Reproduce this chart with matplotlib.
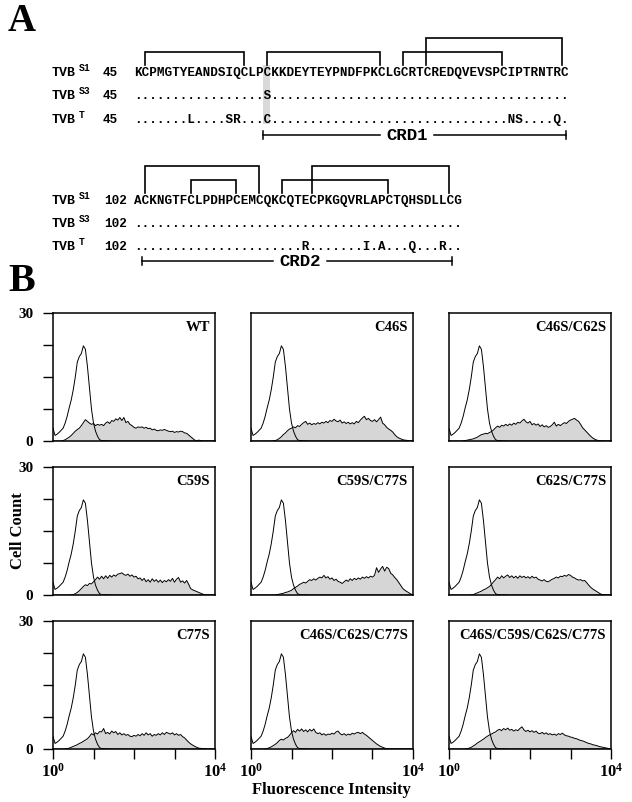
import numpy as np
import matplotlib
matplotlib.use("Agg")
import matplotlib.pyplot as plt
from matplotlib.patches import Rectangle

plt.rcParams['font.family'] = ['Liberation Serif', 'DejaVu Serif']
plt.rcParams['mathtext.fontset'] = 'custom'
plt.rcParams['mathtext.rm'] = 'Liberation Serif'
plt.rcParams['mathtext.bf'] = 'Liberation Serif:bold'

# ---------------- Panel A: alignment data ----------------
block1_start = 45
block1_s1 = "KCPMGTYEANDSIQCLPCKKDEYTEYPNDFPKCLGCRTCREDQVEVSPCIPTRNTRC"
block1_s3 = "." * 17 + "S" + "." * 39
block1_t = "." * 7 + "L" + "." * 4 + "SR" + "." * 3 + "C" + "." * 31 + "NS" + "." * 4 + "Q" + "."
block1_bonds = [(46, 59), (62, 77), (80, 93), (83, 101)]
block1_crd = (62, 101, "CRD1")
block1_highlight = 62

block2_start = 102
block2_s1 = "ACKNGTFCLPDHPCEMCQKCQTECPKGQVRLAPCTQHSDLLCG"
block2_s3 = "." * 43
block2_t = "." * 22 + "R" + "." * 7 + "I" + "." + "A" + "." * 3 + "Q" + "." * 3 + "R" + ".."
block2_bonds = [(103, 118), (109, 115), (121, 135), (125, 143)]
block2_crd = (103, 143, "CRD2")

row_names = ["S1", "S3", "T"]

# ---------------- Panel B: flow cytometry histograms ----------------
# channel positions in log10 units (0..4), 0.05 apart
channel_log = np.linspace(0, 4, 81)

control = [3.0, 1.3, 1.6, 2.0, 2.5, 3.0, 4.2, 5.8, 7.8, 9.6,
           12.0, 15.0, 18.5, 19.8, 20.5, 22.3, 21.5, 17.5, 12.5, 7.5,
           4.2, 2.3, 1.1, 0.3, 0.1, 0.1, 0.05, 0.05, 0.05, 0,
           0, 0, 0, 0, 0, 0, 0, 0, 0, 0,
           0, 0, 0, 0, 0, 0, 0, 0, 0, 0,
           0, 0, 0, 0, 0, 0, 0, 0, 0, 0,
           0, 0, 0, 0, 0, 0, 0, 0, 0, 0,
           0, 0, 0, 0, 0, 0, 0, 0, 0, 0,
           0]

wt = [0, 0, 0, 0, 0, 0.1, 0.3, 0.6, 0.9, 1.3,
      1.8, 2.3, 2.7, 3.0, 3.6, 4.3, 5.0, 4.6, 4.2, 3.9,
      4.1, 3.6, 3.9, 3.7, 3.9, 3.6, 4.2, 4.5, 4.1, 4.8,
      4.6, 5.2, 4.9, 5.5, 4.8, 5.5, 4.3, 4.6, 3.9, 3.6,
      3.2, 3.0, 3.3, 3.2, 3.3, 3.0, 3.2, 2.9, 3.0, 2.6,
      2.8, 2.5, 2.4, 2.6, 2.5, 2.7, 2.5, 2.3, 2.2, 2.3,
      2.0, 2.2, 2.1, 2.3, 2.2, 1.9, 1.8, 1.4, 1.0, 0.6,
      0.2, 0.05, 0.2, 0.1, 0, 0, 0, 0, 0, 0,
      0]

c46s = [0, 0, 0, 0, 0, 0, 0, 0, 0, 0,
        0, 0.05, 0.1, 0.3, 0.6, 1.0, 1.5, 1.9, 2.4, 2.8,
        3.0, 3.3, 3.1, 3.6, 3.4, 3.9, 4.3, 4.6, 3.9, 4.2,
        3.8, 4.1, 3.9, 4.3, 4.0, 4.4, 4.2, 4.6, 4.3, 4.8,
        4.6, 5.1, 4.7, 4.5, 4.9, 4.2, 4.5, 4.1, 4.4, 4.0,
        4.3, 4.0, 4.6, 4.3, 4.9, 5.4, 5.8, 5.0, 5.3, 4.8,
        4.6, 5.0, 4.5, 5.0, 5.6, 4.2, 3.8, 3.2, 2.8, 2.5,
        2.1, 1.5, 1.0, 0.7, 0.5, 0.3, 0.2, 0.15, 0.05, 0,
        0]

c46s_c62s = [0, 0, 0, 0, 0, 0, 0, 0.05, 0.1, 0.2,
             0.3, 0.4, 0.5, 0.7, 0.9, 1.2, 1.5, 1.6, 1.8, 1.7,
             2.0, 2.2, 2.6, 3.1, 3.5, 3.2, 3.7, 3.5, 3.9, 3.6,
             4.0, 3.7, 4.2, 3.9, 4.4, 4.2, 4.7, 5.1, 4.5, 4.2,
             4.6, 3.8, 4.1, 3.7, 4.0, 3.4, 3.8, 3.3, 3.6, 3.2,
             3.4, 3.8, 4.4, 3.5, 3.9, 3.6, 4.0, 4.3, 4.1, 4.6,
             4.9, 5.1, 5.3, 4.9, 4.6, 3.9, 3.1, 2.6, 2.1, 1.6,
             1.1, 0.7, 0.4, 0.2, 0.1, 0.05, 0, 0, 0, 0,
             0]

c59s = [0, 0, 0, 0, 0, 0, 0, 0, 0, 0.05,
        0.1, 0.3, 0.6, 1.0, 1.5, 2.0, 2.4, 2.2, 2.7, 2.6,
        3.1, 3.6, 4.2, 3.7, 4.4, 3.8, 4.5, 3.9, 4.6, 4.2,
        4.7, 4.4, 4.9, 5.0, 5.2, 4.8, 4.6, 4.9, 4.4, 4.7,
        4.2, 4.4, 3.8, 4.0, 3.4, 3.9, 3.1, 3.6, 3.0, 3.8,
        3.2, 3.6, 3.0, 3.5, 2.9, 3.4, 3.1, 3.6, 3.2, 3.9,
        3.0, 3.7, 4.1, 3.0, 3.3, 2.8, 3.4, 2.5, 1.5, 1.2,
        1.0, 0.8, 0.6, 0.4, 0.2, 0.05, 0, 0, 0, 0,
        0]

c59s_c77s = [0, 0, 0, 0, 0, 0, 0, 0, 0, 0,
             0, 0, 0.05, 0.1, 0.2, 0.3, 0.4, 0.6, 0.7, 0.9,
             1.1, 1.5, 1.8, 2.1, 2.5, 2.7, 3.0, 2.8, 3.2, 3.6,
             3.4, 3.8, 3.5, 3.9, 4.2, 4.0, 4.6, 4.0, 4.3, 3.7,
             4.0, 3.4, 3.7, 3.2, 3.0, 2.7, 3.1, 3.5, 3.2, 3.8,
             3.4, 3.9, 3.6, 4.0, 3.7, 4.2, 3.9, 4.3, 4.0, 4.4,
             4.2, 4.6, 6.4, 5.3, 6.1, 6.7, 5.6, 6.5, 6.2, 5.1,
             4.7, 4.1, 3.6, 2.9, 2.2, 1.5, 1.1, 0.8, 0.5, 0.2,
             0.1]

c62s_c77s = [0, 0, 0, 0, 0, 0, 0, 0, 0, 0,
             0, 0.05, 0.1, 0.3, 0.5, 0.7, 0.9, 1.2, 1.4, 1.7,
             2.0, 2.5, 3.1, 3.6, 4.2, 3.8, 4.5, 4.0, 4.4, 4.7,
             4.1, 4.5, 4.0, 4.4, 3.9, 4.5, 4.1, 4.4, 4.0, 4.3,
             3.9, 4.4, 4.0, 4.2, 3.7, 3.5, 3.3, 3.6, 3.2, 3.1,
             3.4, 3.7, 3.9, 4.2, 4.0, 4.4, 4.3, 4.6, 4.4, 4.8,
             4.6, 4.2, 4.0, 3.7, 3.5, 3.6, 3.3, 3.4, 2.9, 2.3,
             1.8, 1.4, 1.1, 0.8, 0.5, 0.2, 0.1, 0.05, 0, 0,
             0]

c77s = [0, 0, 0, 0, 0, 0, 0.05, 0.1, 0.2, 0.4,
        0.6, 0.8, 1.0, 1.3, 1.5, 1.8, 2.1, 2.4, 2.9, 3.6,
        3.3, 3.8, 3.5, 4.1, 4.0, 4.8, 3.6, 3.9, 3.5, 4.2,
        3.8, 4.1, 3.4, 3.8, 3.3, 3.6, 3.2, 3.4, 3.0, 2.9,
        3.2, 3.0, 3.4, 3.1, 3.6, 3.2, 3.8, 3.3, 3.6, 3.0,
        3.4, 3.2, 3.6, 3.3, 3.8, 3.4, 3.9, 3.7, 3.5, 3.8,
        3.3, 3.6, 3.2, 3.4, 2.9, 2.6, 2.1, 1.6, 1.2, 0.9,
        0.6, 0.4, 0.2, 0.15, 0.1, 0.05, 0, 0, 0, 0,
        0]

c46s_c62s_c77s = [0, 0, 0, 0, 0, 0, 0, 0.05, 0.1, 0.3,
                  0.5, 0.8, 1.1, 1.5, 2.0, 2.3, 2.1, 2.5, 2.7, 3.2,
                  3.8, 4.3, 3.9, 4.6, 4.2, 4.7, 4.1, 4.5, 4.0, 4.6,
                  4.2, 4.7, 3.9, 3.6, 3.8, 3.3, 3.6, 3.2, 3.5, 3.4,
                  3.7, 3.5, 4.0, 4.2, 3.6, 3.3, 3.6, 3.2, 3.5, 3.3,
                  3.7, 3.5, 3.8, 3.9, 3.6, 3.9, 3.5, 3.2, 2.8, 2.4,
                  2.0, 1.6, 1.2, 0.9, 0.6, 0.4, 0.2, 0.1, 0.05, 0,
                  0, 0, 0, 0, 0, 0, 0, 0, 0, 0,
                  0]

c46s_c59s_c62s_c77s = [0, 0, 0, 0, 0, 0, 0, 0, 0.05, 0.1,
                       0.2, 0.4, 0.7, 1.0, 1.4, 1.7, 2.0, 2.3, 2.7, 3.0,
                       3.3, 3.5, 3.8, 4.0, 4.4, 4.6, 4.3, 4.8, 4.5, 4.9,
                       4.4, 4.6, 4.2, 4.5, 4.3, 4.8, 5.2, 4.5, 4.1, 4.4,
                       4.0, 4.3, 3.9, 4.2, 3.7, 3.6, 3.9, 3.5, 3.8, 3.4,
                       3.6, 3.3, 3.5, 3.2, 3.6, 3.4, 3.7, 3.3, 3.1, 3.0,
                       2.8, 2.7, 2.5, 2.4, 2.2, 2.0, 1.9, 1.7, 1.5, 1.3,
                       1.2, 1.0, 0.9, 0.8, 0.6, 0.5, 0.4, 0.3, 0.2, 0.1,
                       0.05]

panel_names = ["WT", "C46S", "C46S/C62S",
               "C59S", "C59S/C77S", "C62S/C77S",
               "C77S", "C46S/C62S/C77S", "C46S/C59S/C62S/C77S"]
panel_data = [wt, c46s, c46s_c62s,
              c59s, c59s_c77s, c62s_c77s,
              c77s, c46s_c62s_c77s, c46s_c59s_c62s_c77s]

# ---------------- figure ----------------
W, H = 632, 802
fig = plt.figure(figsize=(W / 100, H / 100), dpi=100)

# overlay axes in pixel coordinates for panel A
ax0 = fig.add_axes([0, 0, 1, 1])
ax0.set_xlim(0, W)
ax0.set_ylim(H, 0)
ax0.axis('off')

mono = dict(family='Liberation Mono', fontweight='bold')
x0 = 134.0
pitch = 7.58
seq_size = 9.1
crd_size = 12.5


def res_center(res, start):
    return x0 + (res - start + 0.5) * pitch


def draw_block(start, seqs, baselines, bonds, tops, bond_bottom, crd, crd_y, crd_text_x):
    num_x = 103 if start < 100 else 104
    for name, seq, yb in zip(row_names, seqs, baselines):
        ax0.text(52, yb, "TVB", fontsize=9.5, va='baseline', ha='left', **mono)
        ax0.text(79, yb - 5, name, fontsize=7, va='baseline', ha='left', **mono)
        ax0.text(num_x, yb, str(start), fontsize=seq_size, va='baseline', ha='left', **mono)
        ax0.text(x0, yb, seq, fontsize=seq_size, va='baseline', ha='left', **mono)
    # disulfide bonds
    for (a, b), top in zip(bonds, tops):
        xa, xb = res_center(a, start), res_center(b, start)
        ax0.plot([xa, xa, xb, xb], [bond_bottom, top, top, bond_bottom],
                 color='black', lw=1.2, solid_joinstyle='miter')
    # CRD bracket, broken around its label
    xa = x0 + (crd[0] - start) * pitch
    xb = x0 + (crd[1] - start + 1) * pitch
    half = len(crd[2]) * 0.6 * crd_size * 100 / 72 / 2 + 6
    ax0.plot([xa, crd_text_x - half], [crd_y, crd_y], color='black', lw=1.1)
    ax0.plot([crd_text_x + half, xb], [crd_y, crd_y], color='black', lw=1.1)
    ax0.plot([xa, xa], [crd_y - 4, crd_y + 4], color='black', lw=1.1)
    ax0.plot([xb, xb], [crd_y - 4, crd_y + 4], color='black', lw=1.1)
    ax0.text(crd_text_x, crd_y + 5.5, crd[2], fontsize=crd_size, ha='center', va='baseline', **mono)


# grey highlight column behind residue 62
hx = x0 + (block1_highlight - block1_start) * pitch
ax0.add_patch(Rectangle((hx, 65), pitch, 59, facecolor='#d9d9d9', edgecolor='none', zorder=0))

draw_block(block1_start, [block1_s1, block1_s3, block1_t], [76, 99, 123],
           block1_bonds, [52, 52, 52, 38], 65, block1_crd, 135, 407)
draw_block(block2_start, [block2_s1, block2_s3, block2_t], [204, 227, 250],
           block2_bonds, [166, 180, 180, 166], 193, block2_crd, 261, 300)

fig.text(8 / W, 1 - 31 / H, "A", fontsize=28, fontweight='bold', va='baseline')
fig.text(8 / W, 1 - 291 / H, "B", fontsize=29, fontweight='bold', va='baseline')

# ---------------- Panel B: 3x3 histograms ----------------
col_left = [53, 251, 449]
row_top = [313, 467, 621]
pw, ph = 162, 128
channels = 10 ** channel_log

for i, (name, counts) in enumerate(zip(panel_names, panel_data)):
    r, c = divmod(i, 3)
    ax = fig.add_axes([col_left[c] / W, 1 - (row_top[r] + ph) / H, pw / W, ph / H])
    ax.fill_between(channels, counts, color='#d6d6d6', lw=0)
    ax.plot(channels, counts, color='black', lw=0.7)
    ax.plot(channels, control, color='black', lw=0.7)
    ax.set_xscale('log')
    ax.set_xlim(1, 1e4)
    ax.set_ylim(0, 30)
    for s in ax.spines.values():
        s.set_linewidth(1.1)
    ax.text(1 - 5 / pw, 1 - 18 / ph, name, transform=ax.transAxes, ha='right', va='baseline',
            fontsize=10.5, fontweight='bold')

    if c == 0:
        ax.set_yticks([0, 30])
        ax.set_yticklabels(['0', '30'], fontsize=11, fontweight='bold')
        ax.set_yticks([7.5, 15, 22.5], minor=True)
        ax.tick_params(axis='y', which='both', direction='out', length=7.2, width=1, pad=7)
    else:
        ax.set_yticks([])
        ax.set_yticks([], minor=True)

    if r == 2:
        ax.set_xticks([1, 10, 100, 1000, 10000])
        ax.set_xticklabels([r'$\mathbf{10^{0}}$', '', '', '', r'$\mathbf{10^{4}}$'], fontsize=12)
        ax.tick_params(axis='x', which='major', direction='out', length=7, width=1, pad=3)
        ax.tick_params(axis='x', which='minor', direction='out', length=3.5, width=1)
    else:
        ax.tick_params(axis='x', which='both', bottom=False, labelbottom=False)

fig.text(18 / W, 1 - 531 / H, "Cell Count", rotation=90, ha='center', va='center',
         fontsize=12, fontweight='bold')
fig.text(331.5 / W, 1 - 790 / H, "Fluorescence Intensity", ha='center', va='center',
         fontsize=12, fontweight='bold')

plt.savefig("out.png", dpi=100)
